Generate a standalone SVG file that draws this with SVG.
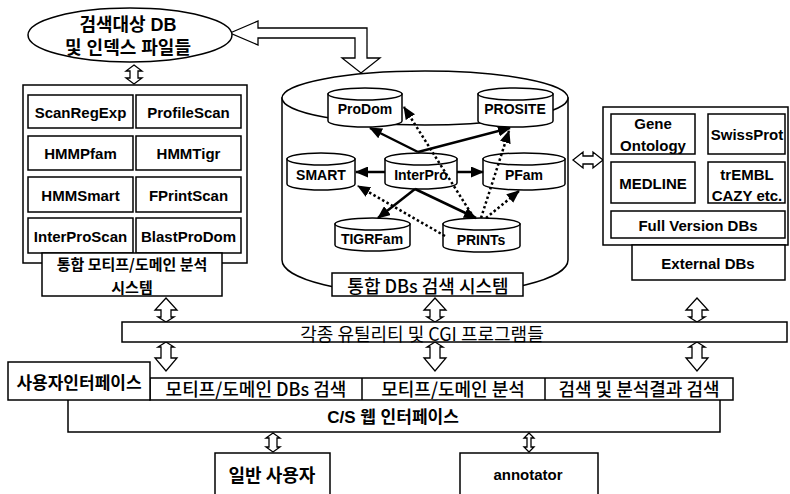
<svg xmlns="http://www.w3.org/2000/svg" width="790" height="494" viewBox="0 0 790 494">
<style>
.bx{fill:#fff;stroke:#000;stroke-width:1.5}
.ln{fill:none;stroke:#000;stroke-width:1.5}
.ha{fill:#fff;stroke:#000;stroke-width:1.3;stroke-linejoin:miter}
.t{font-family:"Liberation Sans","Noto Sans CJK KR",sans-serif;text-anchor:middle;dominant-baseline:central;fill:#000}
.b{font-weight:bold}
.lb{font-weight:bold;font-size:15px}
.k{font-family:"Noto Sans CJK KR","Liberation Sans",sans-serif;text-anchor:middle;dominant-baseline:central;fill:#000}
.sol{stroke:#000;stroke-width:2.5;fill:none;marker-end:url(#ah)}
.dot{stroke:#000;stroke-width:2.5;stroke-dasharray:2.5 2.5;fill:none;marker-end:url(#ah)}
</style>
<defs>
<marker id="ah" markerUnits="userSpaceOnUse" markerWidth="13" markerHeight="11" refX="12" refY="5.5" orient="auto">
<path d="M0,0 L13,5.5 L0,11 z" fill="#000"/>
</marker>
<polygon id="upArrow" class="ha" points="0,298 11,310 5,310 5,317 8,317 0,322 -8,317 -5,317 -5,310 -11,310"/>
<polygon id="downArrow" class="ha" points="0,342 8,347 5,347 5,358 11,358 0,371 -11,358 -5,358 -5,347 -8,347"/>
</defs>
<rect width="790" height="494" fill="#fff"/>

<!-- connectors -->
<g id="connectors">
<polygon class="ha" points="230,33 258,21 258,28 367,28 367,58 380,58 361,73 342,58 355,58 355,38 258,38 258,45"/>
<polygon class="ha" points="134,65 142,71 138,71 138,78 142,78 134,84 126,78 130,78 130,71 126,71"/>
<polygon class="ha" points="573,160 583,152 583,156 593,156 593,152 603,160 593,168 593,164 583,164 583,168"/>
<use href="#upArrow" x="166"/>
<use href="#upArrow" x="435"/>
<use href="#upArrow" x="697"/>
<use href="#downArrow" x="166"/>
<use href="#downArrow" x="435"/>
<use href="#downArrow" x="697"/>
<polygon class="ha" points="273,433 280,438 277,438 277,447 280,447 273,452 266,447 269,447 269,438 266,438"/>
<polygon class="ha" points="529,433 534,438 531,438 531,447 534,447 529,452 524,447 527,447 527,438 524,438"/>
</g>

<!-- search target ellipse -->
<g id="target-db">
<ellipse class="bx" cx="130" cy="35" rx="102" ry="27"/>
<text class="t b" x="128" y="25" font-size="18">검색대상 DB</text>
<text class="t b" x="128" y="48" font-size="18">및 인덱스 파일들</text>
</g>

<!-- left panel -->
<g id="motif-system">
<rect class="bx" x="23" y="85" width="224" height="178"/>
<rect class="bx" x="28" y="95" width="105" height="33"/><text class="t lb" x="80.5" y="112">ScanRegExp</text>
<rect class="bx" x="136" y="95" width="105" height="33"/><text class="t lb" x="188.5" y="112">ProfileScan</text>
<rect class="bx" x="28" y="136" width="105" height="34"/><text class="t lb" x="80.5" y="153">HMMPfam</text>
<rect class="bx" x="136" y="136" width="105" height="34"/><text class="t lb" x="188.5" y="153">HMMTigr</text>
<rect class="bx" x="28" y="177" width="105" height="35"/><text class="t lb" x="80.5" y="195">HMMSmart</text>
<rect class="bx" x="136" y="177" width="105" height="35"/><text class="t lb" x="188.5" y="195">FPrintScan</text>
<rect class="bx" x="28" y="218" width="105" height="35"/><text class="t lb" x="80.5" y="236">InterProScan</text>
<rect class="bx" x="136" y="218" width="105" height="35"/><text class="t lb" x="188.5" y="236">BlastProDom</text>
<rect class="bx" x="42" y="253" width="180" height="43"/>
<text class="k b" x="132" y="263" font-size="15">통합 모티프/도메인 분석</text>
<text class="k b" x="132" y="286" font-size="15">시스템</text>
</g>

<!-- central cylinder -->
<g id="integrated-dbs">
<path class="bx" d="M282,98 V260 A143,35 0 0 0 568,260 V98 Z"/>
<ellipse class="bx" cx="425" cy="98" rx="143" ry="27"/>
<rect class="bx" x="332" y="273" width="191" height="23"/>
<text class="k" x="428" y="285" font-size="18" font-weight="500">통합 DBs 검색 시스템</text>
</g>

<g id="ProDom">
<path class="bx" d="M328,94 V121 A37,6 0 0 0 402,121 V94 Z"/><ellipse class="bx" cx="365" cy="94" rx="37" ry="6"/>
<text class="t b" x="365" y="109" font-size="14">ProDom</text>
</g>
<g id="PROSITE">
<path class="bx" d="M478,94 V121 A37.5,6 0 0 0 553,121 V94 Z"/><ellipse class="bx" cx="515.5" cy="94" rx="37.5" ry="6"/>
<text class="t b" x="515" y="109" font-size="14">PROSITE</text>
</g>
<g id="SMART">
<path class="bx" d="M287,159 V184 A34,6 0 0 0 355,184 V159 Z"/><ellipse class="bx" cx="321" cy="159" rx="34" ry="6"/>
<text class="t b" x="321" y="175" font-size="14">SMART</text>
</g>
<g id="InterPro">
<path class="bx" d="M385,159 V183 A36,6 0 0 0 457,183 V159 Z"/><ellipse class="bx" cx="421" cy="159" rx="36" ry="6"/>
<text class="t b" x="421" y="175" font-size="14">InterPro</text>
</g>
<g id="PFam">
<path class="bx" d="M483,159 V184 A41,6 0 0 0 565,184 V159 Z"/><ellipse class="bx" cx="524" cy="159" rx="41" ry="6"/>
<text class="t b" x="524" y="175" font-size="14">PFam</text>
</g>
<g id="TIGRFam">
<path class="bx" d="M335,224 V245 A37.5,6 0 0 0 410,245 V224 Z"/><ellipse class="bx" cx="372.5" cy="224" rx="37.5" ry="6"/>
<text class="t b" x="372" y="239" font-size="14">TIGRFam</text>
</g>
<g id="PRINTs">
<path class="bx" d="M443,224 V246 A38.5,6 0 0 0 520,246 V224 Z"/><ellipse class="bx" cx="481.5" cy="224" rx="38.5" ry="6"/>
<text class="t b" x="481" y="240" font-size="14">PRINTs</text>
</g>

<g id="db-links">
<line class="sol" x1="418" y1="152" x2="370" y2="128"/>
<line class="sol" x1="418" y1="152" x2="510" y2="128"/>
<line class="sol" x1="385" y1="172" x2="356" y2="172"/>
<line class="sol" x1="457" y1="172" x2="483" y2="172"/>
<line class="sol" x1="415" y1="189" x2="378" y2="218"/>
<line class="sol" x1="415" y1="189" x2="476" y2="218"/>
<line class="dot" x1="474" y1="218" x2="404" y2="107"/>
<line class="dot" x1="481" y1="218" x2="509" y2="131"/>
<line class="dot" x1="486" y1="218" x2="519" y2="191"/>
<line class="dot" x1="445" y1="236" x2="358" y2="186"/>
</g>

<!-- right panel -->
<g id="external-dbs">
<rect class="bx" x="603" y="107" width="185" height="138"/>
<rect class="bx" x="611" y="114" width="84" height="40"/>
<text class="t lb" x="653" y="123">Gene</text><text class="t lb" x="653" y="145">Ontology</text>
<rect class="bx" x="708" y="114" width="77" height="40"/>
<text class="t lb" x="747" y="134">SwissProt</text>
<rect class="bx" x="611" y="162" width="84" height="41"/>
<text class="t lb" x="653" y="183">MEDLINE</text>
<rect class="bx" x="708" y="162" width="77" height="41"/>
<text class="t lb" x="747" y="174">trEMBL</text><text class="t lb" x="747" y="195">CAZY etc.</text>
<rect class="bx" x="611" y="211" width="174" height="27"/>
<text class="t lb" x="698" y="225">Full Version DBs</text>
<rect class="bx" x="632" y="245" width="153" height="35"/>
<text class="t lb" x="708" y="263">External DBs</text>
</g>

<!-- CGI bar -->
<g id="utilities">
<rect class="bx" x="122" y="322" width="665" height="20"/>
<text class="k" x="422" y="333" font-size="18">각종 유틸리티 및 CGI 프로그램들</text>
</g>

<!-- user interface -->
<g id="user-interface">
<path class="ln" d="M68,400 V432 H720 V400"/>
<rect class="bx" x="150" y="378" width="583" height="22"/>
<line class="ln" x1="362" y1="378" x2="362" y2="400"/>
<line class="ln" x1="545" y1="378" x2="545" y2="400"/>
<rect class="bx" x="8" y="362" width="142" height="38"/>
<text class="k b" x="79" y="381" font-size="17">사용자인터페이스</text>
<text class="k" x="256" y="388" font-size="18" font-weight="500">모티프/도메인 DBs 검색</text>
<text class="k" x="453" y="388" font-size="18" font-weight="500">모티프/도메인 분석</text>
<text class="k" x="639" y="388" font-size="18" font-weight="500">검색 및 분석결과 검색</text>
<text class="t b" x="393" y="417" font-size="17">C/S 웹 인터페이스</text>
</g>

<g id="general-user">
<path class="ln" d="M215,494 V453 H330 V494"/>
<text class="k b" x="272" y="474" font-size="18">일반 사용자</text>
</g>
<g id="annotator">
<path class="ln" d="M460,494 V453 H598 V494"/>
<text class="t b" x="528" y="474" font-size="15">annotator</text>
</g>
</svg>
